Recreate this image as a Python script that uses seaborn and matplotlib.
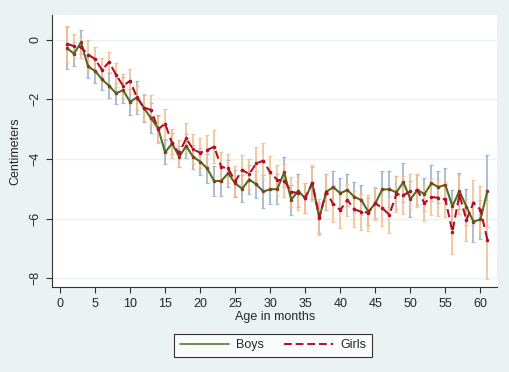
import numpy as np
import pandas as pd
import seaborn as sns
from matplotlib import pyplot as plt
from matplotlib.lines import Line2D

# mean difference (cm) by age
age = list(range(1, 62))
boys = [-0.29, -0.47, -0.09, -0.90, -1.05, -1.33, -1.55, -1.80, -1.69, -2.09,
        -1.93, -2.30, -2.64, -2.97, -3.78, -3.48, -3.93, -3.57, -3.93, -4.09,
        -4.32, -4.74, -4.74, -4.48, -4.82, -5.00, -4.69, -4.85, -5.09, -5.02,
        -5.01, -4.45, -5.37, -5.07, -5.32, -4.81, -5.97, -5.10, -4.95, -5.15,
        -5.04, -5.27, -5.38, -5.77, -5.49, -5.02, -5.02, -5.12, -4.78, -5.35,
        -5.04, -5.18, -4.82, -4.94, -4.87, -5.59, -5.07, -5.60, -6.10, -6.03,
        -5.07]
girls = [-0.14, -0.22, -0.25, -0.50, -0.65, -1.02, -0.75, -1.18, -1.55, -1.38,
         -1.95, -2.28, -2.36, -3.00, -2.82, -3.48, -3.81, -3.31, -3.68, -3.79,
         -3.70, -3.59, -4.26, -4.32, -4.75, -4.37, -4.51, -4.15, -4.06, -4.45,
         -4.70, -4.73, -5.10, -5.15, -5.30, -4.81, -5.95, -5.10, -5.52, -5.71,
         -5.38, -5.69, -5.77, -5.80, -5.49, -5.65, -5.87, -5.18, -5.21, -5.09,
         -5.05, -5.48, -5.28, -5.30, -5.36, -6.44, -5.20, -6.05, -5.47, -5.70,
         -6.72]
# half-width of the confidence bars
boys_ci = [0.70, 0.40, 0.40, 0.40, 0.40, 0.35, 0.42, 0.35, 0.45, 0.45,
           0.55, 0.45, 0.50, 0.45, 0.40, 0.35, 0.35, 0.40, 0.40, 0.45,
           0.50, 0.50, 0.50, 0.45, 0.45, 0.45, 0.50, 0.45, 0.55, 0.50,
           0.50, 0.50, 0.50, 0.55, 0.50, 0.55, 0.50, 0.60, 0.55, 0.50,
           0.55, 0.50, 0.50, 0.45, 0.50, 0.60, 0.60, 0.55, 0.65, 0.60,
           0.50, 0.55, 0.60, 0.55, 0.55, 0.55, 0.60, 0.60, 0.70, 0.65,
           1.20]
girls_ci = [0.60, 0.40, 0.35, 0.50, 0.40, 0.40, 0.35, 0.40, 0.40, 0.40,
            0.40, 0.45, 0.50, 0.45, 0.50, 0.50, 0.45, 0.50, 0.50, 0.50,
            0.50, 0.55, 0.50, 0.50, 0.50, 0.50, 0.50, 0.55, 0.60, 0.55,
            0.50, 0.55, 0.50, 0.55, 0.50, 0.60, 0.60, 0.60, 0.60, 0.60,
            0.55, 0.60, 0.60, 0.60, 0.55, 0.60, 0.60, 0.60, 0.65, 0.60,
            0.55, 0.60, 0.60, 0.60, 0.60, 0.75, 0.65, 0.70, 0.75, 0.80,
            1.30]

df = pd.DataFrame({"age": age * 2,
                   "cm": boys + girls,
                   "ci": boys_ci + girls_ci,
                   "sex": ["Boys"] * len(age) + ["Girls"] * len(age)})

bg = "#eaf2f3"
sns.set_style("ticks")
plt.rcParams["font.family"] = ["Liberation Sans", "DejaVu Sans"]

fig = plt.figure(figsize=(5.1, 3.72), dpi=100, facecolor=bg)
ax = fig.add_axes([0.102, 0.228, 0.873, 0.732])
ax.set_facecolor("white")

bar_cols = {"Boys": "#9fb2c9", "Girls": "#f4c08f"}
for s, d in df.groupby("sex"):
    ax.errorbar(d["age"], d["cm"], yerr=d["ci"], fmt="none",
                ecolor=bar_cols[s], alpha=0.85, elinewidth=1.4,
                capsize=1.5, capthick=0.9, zorder=1)

line_cols = {"Boys": "#4f6f1f", "Girls": "#b0102a"}
sns.lineplot(data=df, x="age", y="cm", hue="sex", style="sex",
             palette=line_cols,
             dashes={"Boys": "", "Girls": (4, 2)},
             markers={"Boys": "o", "Girls": "o"}, markersize=2.6,
             markeredgewidth=0, linewidth=1.5, ax=ax, zorder=3, legend=False)
for ln, mc in zip(ax.lines[-2:], ["#8a3a1e", "#b0102a"]):
    ln.set_markerfacecolor(mc)

ax.set_xlim(-1.14, 62.4)
ax.set_ylim(-8.3, 0.83)
ax.set_xticks(range(0, 61, 5))
ax.set_yticks([0, -2, -4, -6, -8])
ax.yaxis.grid(True, color=bg, linewidth=1)
ax.tick_params(axis="y", labelrotation=90, labelsize=9, length=4, color="#333333")
ax.tick_params(axis="x", labelsize=9, length=4, color="#333333")
for lab in ax.get_yticklabels():
    lab.set_va("center")
sns.despine(ax=ax)
ax.spines["left"].set_color("#333333")
ax.spines["bottom"].set_color("#333333")
ax.set_xlabel("Age in months", fontsize=9, labelpad=1)
ax.set_ylabel("Centimeters", fontsize=9, labelpad=6)

handles = [Line2D([], [], color="#6f8a55", lw=1.4),
           Line2D([], [], color="#b0102a", lw=1.4, dashes=(4, 2))]
leg = ax.legend(handles, ["Boys", "Girls"], ncol=2, loc="upper center",
                bbox_to_anchor=(0.497, -0.148), fontsize=9, frameon=True,
                fancybox=False, edgecolor="black", handlelength=3.9,
                handletextpad=0.6, columnspacing=1.6, borderpad=0.45)
leg.get_frame().set_linewidth(0.8)

fig.savefig("out.png", dpi=100, facecolor=bg)
